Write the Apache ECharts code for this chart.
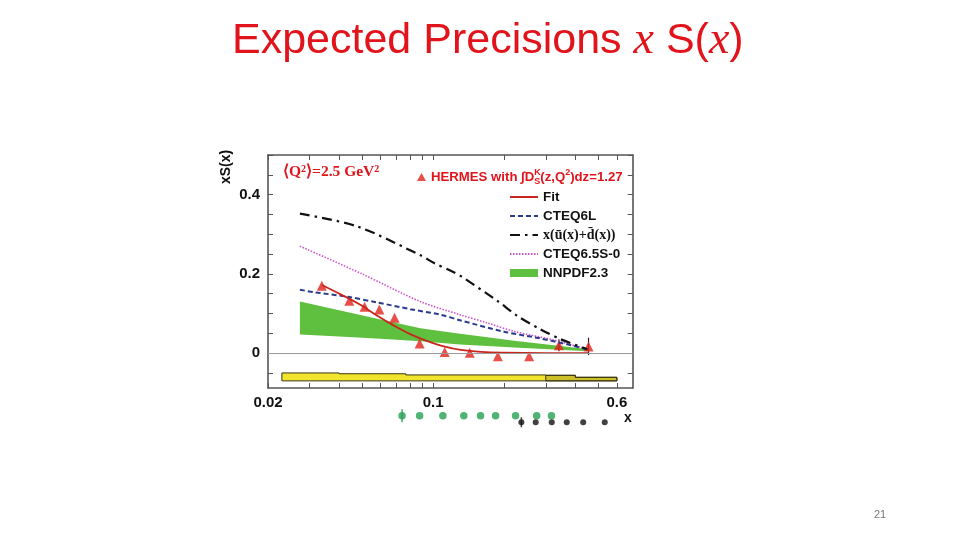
<!DOCTYPE html>
<html><head><meta charset="utf-8">
<script src="https://cdn.jsdelivr.net/npm/echarts@6/dist/echarts.min.js"></script>
<style>html,body{margin:0;padding:0;background:#fff}#c{width:960px;height:540px}</style>
</head><body><div id="c"></div>
<script>
// ---- data (x values are Bjorken x, y values xS(x)) ----
const xTickVals = [0.02,0.03,0.04,0.05,0.06,0.07,0.08,0.09,0.1,0.2,0.3,0.4,0.5,0.6];
const xLabelVals = [0.02,0.1,0.6];
const yTickVals = [-0.05,0,0.05,0.1,0.15,0.2,0.25,0.3,0.35,0.4,0.45,0.5];
const yLabelVals = [0,0.2,0.4];

const hermesX = [0.0338,0.0442,0.0513,0.0592,0.0687,0.0877,0.112,0.143,0.188,0.255,0.341,0.455];
const hermesY = [0.170,0.132,0.117,0.110,0.089,0.024,0.003,0.001,-0.008,-0.008,0.020,0.017];
const hermesErr = [0,0,0,0,0,0,0,0,0,0,0.015,0.022];

const fitX = [0.0338,0.0404,0.0492,0.0578,0.068,0.080,0.094,0.111,0.131,0.16,0.2,0.3,0.455];
const fitY = [0.172,0.149,0.122,0.095,0.070,0.048,0.031,0.017,0.008,0.003,0.001,0.0,0.0];

const cteq6lX = [0.0273,0.0311,0.0432,0.0578,0.080,0.1075,0.13,0.2,0.285,0.395,0.455];
const cteq6lY = [0.160,0.154,0.1425,0.128,0.111,0.097,0.083,0.054,0.037,0.018,0.008];

const seaX = [0.0273,0.0476,0.0884,0.1006,0.1224,0.1306,0.187,0.2273,0.281,0.347,0.45];
const seaY = [0.352,0.320,0.247,0.228,0.204,0.195,0.132,0.094,0.062,0.035,0.010];

const cteq65X = [0.0273,0.05,0.0884,0.13,0.17,0.22,0.325,0.436];
const cteq65Y = [0.270,0.200,0.130,0.097,0.076,0.055,0.033,0.012];

const nnX = [0.0273,0.04,0.06,0.0884,0.13,0.17,0.22,0.325,0.455];
const nnUpper = [0.130,0.108,0.085,0.063,0.049,0.040,0.031,0.020,0.010];
const nnLower = [0.047,0.042,0.036,0.030,0.022,0.018,0.014,0.009,0.005];

const yellowEdges = [0.0229,0.04,0.0766,0.3,0.4,0.6];
const yellowTop = [-0.050,-0.052,-0.055,-0.056,-0.061];
const yellowBottom = -0.070;
const yellowShadeFrom = 3;

const greenBinsX = [0.0739,0.0877,0.110,0.1349,0.1588,0.1839,0.2234,0.2745,0.317];
const blackBinsX = [0.2364,0.2719,0.318,0.368,0.432,0.533];

// ---- build ----
const L = v => Math.log10(v);
const xy = (xs, ys) => xs.map((x, i) => [L(x), ys[i]]);
const RED = '#e2141b';
const AX = '#555';
const GREEN = '#5fbf3f';

function xAxisDef(pos, showLabel) {
  return {
    type: 'value', gridIndex: 0, position: pos, min: L(0.02), max: L(0.7),
    axisLine: {show: true, onZero: false, lineStyle: {color: AX, width: 1.6}},
    axisTick: {show: true, inside: true, length: 5, customValues: xTickVals.map(L), lineStyle: {color: AX, width: 1}},
    axisLabel: {show: showLabel, customValues: xLabelVals.map(L), margin: 7,
      formatter: v => String(Math.round(Math.pow(10, v) * 100) / 100),
      fontFamily: 'Liberation Sans', fontWeight: 'bold', fontSize: 15, color: '#111'},
    splitLine: {show: false}
  };
}
function yAxisDef(pos, showLabel) {
  return {
    type: 'value', gridIndex: 0, position: pos, min: -0.088, max: 0.5,
    axisLine: {show: true, onZero: false, lineStyle: {color: AX, width: 1.6}},
    axisTick: {show: true, inside: true, length: 5, customValues: yTickVals, lineStyle: {color: AX, width: 1}},
    axisLabel: {show: showLabel, customValues: yLabelVals, margin: 8,
      fontFamily: 'Liberation Sans', fontWeight: 'bold', fontSize: 15, color: '#111'},
    splitLine: {show: false}
  };
}
const noSym = {opacity: 0};

const chart = echarts.init(document.getElementById('c'));
chart.setOption({
  animation: false,
  backgroundColor: '#fff',
  title: {
    text: '{a|Expected Precisions }{b|x}{a| S(}{b|x}{a|)}',
    left: 227, top: 10,
    textStyle: {fontWeight: 'normal', rich: {
      a: {fontFamily: 'Liberation Sans', fontWeight: 'normal', fontSize: 43, color: RED, lineHeight: 52},
      b: {fontFamily: 'Liberation Serif', fontStyle: 'italic', fontWeight: 'normal', fontSize: 46, color: RED, lineHeight: 52}
    }}
  },
  grid: [
    {left: 268, right: 327.3, top: 155, bottom: 152},
    {left: 268, right: 327.3, top: 415.7, height: 6.6}
  ],
  xAxis: [
    xAxisDef('bottom', true), xAxisDef('top', false),
    {type: 'value', gridIndex: 1, min: L(0.02), max: L(0.7), show: false}
  ],
  yAxis: [
    yAxisDef('left', true), yAxisDef('right', false),
    {type: 'value', gridIndex: 1, min: 0, max: 1, show: false}
  ],
  legend: [
    {
      selectedMode: false, left: 412, top: 163, itemWidth: 9, itemHeight: 8,
      data: [{name: 'HERMES', icon: 'triangle'}],
      formatter: () => 'HERMES with ∫D{k|K}{s|S}(z,Q{p|2})dz=1.27',
      textStyle: {color: RED, fontFamily: 'Liberation Sans', fontWeight: 'bold', fontSize: 13.2, lineHeight: 18,
        rich: {
          k: {color: RED, fontFamily: 'Liberation Sans', fontWeight: 'bold', fontSize: 9, width: 0, verticalAlign: 'top', lineHeight: 18},
          s: {color: RED, fontFamily: 'Liberation Sans', fontWeight: 'bold', fontSize: 9, verticalAlign: 'bottom', lineHeight: 18},
          p: {color: RED, fontFamily: 'Liberation Sans', fontWeight: 'bold', fontSize: 9, verticalAlign: 'top', lineHeight: 18}
        }}
    },
    {
      selectedMode: false, orient: 'vertical', left: 504, top: 184, itemWidth: 28, itemHeight: 8, itemGap: 3,
      data: [
        {name: 'Fit', itemStyle: noSym}, {name: 'CTEQ6L', itemStyle: noSym},
        {name: 'x(ū(x)+d̄(x))', itemStyle: noSym}, {name: 'CTEQ6.5S-0', itemStyle: noSym},
        {name: 'NNPDF2.3', icon: 'rect', itemStyle: {color: GREEN, opacity: 1}}
      ],
      formatter: n => n === 'x(ū(x)+d̄(x))' ? '{m|' + n + '}' : n,
      textStyle: {color: '#111', fontFamily: 'Liberation Sans', fontWeight: 'bold', fontSize: 13.5, lineHeight: 16,
        rich: {m: {fontFamily: 'Liberation Serif', fontWeight: 'bold', fontSize: 14, color: '#111', lineHeight: 16}}}
    }
  ],
  graphic: [
    {type: 'text', left: 283, top: 164, style: {
      text: '⟨Q{s|2}⟩=2.5 GeV{s|2}', fill: RED, font: 'bold 15.5px "Liberation Serif"',
      rich: {s: {fontSize: 10, fontWeight: 'bold', fontFamily: 'Liberation Serif', fill: RED, verticalAlign: 'top'}}}},
    {type: 'text', x: 226, y: 167, rotation: Math.PI / 2, style: {
      text: 'xS(x)', fill: '#111', font: 'bold 14px "Liberation Sans"', align: 'center', verticalAlign: 'middle'}},
    {type: 'text', x: 628, y: 418, style: {
      text: 'x', fill: '#111', font: 'bold 14px "Liberation Sans"', align: 'center', verticalAlign: 'middle'}},
    {type: 'text', x: 880, y: 515, style: {
      text: '21', fill: '#777', font: '11px "Liberation Sans"', align: 'center', verticalAlign: 'middle'}}
  ],
  series: [
    { // zero line
      type: 'line', name: 'zero', data: [], symbol: 'none', silent: true,
      markLine: {silent: true, symbol: ['none', 'none'], label: {show: false},
        lineStyle: {color: '#9a9a9a', width: 1, type: 'solid'}, data: [{yAxis: 0}]}
    },
    { // yellow band
      type: 'custom', name: 'yellow', xAxisIndex: 0, yAxisIndex: 0, silent: true,
      data: [[0]],
      renderItem: (params, api) => {
        const poly = (from, to) => {
          const pts = [];
          for (let i = from; i < to; i++) {
            pts.push(api.coord([L(yellowEdges[i]), yellowTop[i]]));
            pts.push(api.coord([L(yellowEdges[i + 1]), yellowTop[i]]));
          }
          pts.push(api.coord([L(yellowEdges[to]), yellowBottom]));
          pts.push(api.coord([L(yellowEdges[from]), yellowBottom]));
          return pts;
        };
        return {type: 'group', children: [
          {type: 'polygon', shape: {points: poly(0, yellowTop.length)},
            style: {fill: '#f2e32c', stroke: '#3a3410', lineWidth: 1}},
          {type: 'polygon', shape: {points: poly(yellowShadeFrom, yellowTop.length)},
            style: {fill: 'rgba(110,100,30,0.28)', stroke: '#3a3410', lineWidth: 1}}
        ]};
      }
    },
    { // NNPDF band
      type: 'custom', name: 'NNPDF2.3', silent: true, itemStyle: {color: GREEN},
      data: [[0]],
      renderItem: (params, api) => {
        const pts = [];
        nnX.forEach((x, i) => pts.push(api.coord([L(x), nnUpper[i]])));
        for (let i = nnX.length - 1; i >= 0; i--) pts.push(api.coord([L(nnX[i]), nnLower[i]]));
        return {type: 'polygon', shape: {points: pts}, style: {fill: GREEN}};
      }
    },
    {
      type: 'line', name: 'CTEQ6.5S-0', data: xy(cteq65X, cteq65Y), smooth: 0.3, symbol: 'none',
      lineStyle: {color: '#cc55c8', width: 1.6, type: [1.5, 1.5]}, itemStyle: {color: '#cc55c8'}
    },
    {
      type: 'line', name: 'CTEQ6L', data: xy(cteq6lX, cteq6lY), smooth: 0.3, symbol: 'none',
      lineStyle: {color: '#2b3b8c', width: 2, type: [5, 3]}, itemStyle: {color: '#2b3b8c'}
    },
    {
      type: 'line', name: 'x(ū(x)+d̄(x))', data: xy(seaX, seaY), smooth: 0.3, symbol: 'none',
      lineStyle: {color: '#111', width: 2.2, type: [10, 5, 2.5, 5]}, itemStyle: {color: '#111'}
    },
    {
      type: 'line', name: 'Fit', data: xy(fitX, fitY), smooth: 0.4, symbol: 'none',
      lineStyle: {color: '#c8261c', width: 1.8}, itemStyle: {color: '#c8261c'}
    },
    {
      type: 'custom', name: 'hermesErr', silent: true,
      data: hermesX.map((x, i) => [L(x), hermesY[i], hermesErr[i]]).filter(d => d[2] > 0),
      renderItem: (params, api) => {
        const a = api.coord([api.value(0), api.value(1) - api.value(2)]);
        const b = api.coord([api.value(0), api.value(1) + api.value(2)]);
        return {type: 'line', shape: {x1: a[0], y1: a[1], x2: b[0], y2: b[1]},
          style: {stroke: '#3a1a14', lineWidth: 1.2}};
      }
    },
    {
      type: 'scatter', name: 'HERMES', data: xy(hermesX, hermesY), symbol: 'triangle', symbolSize: 10,
      itemStyle: {color: '#e3231c'}
    },
    // expected bins strip
    {
      type: 'scatter', name: 'greenBins', xAxisIndex: 2, yAxisIndex: 2, silent: true,
      data: greenBinsX.map(x => [L(x), 1]), symbol: 'circle', symbolSize: 7.5, itemStyle: {color: '#22a050'}
    },
    {
      type: 'scatter', name: 'greenBar', xAxisIndex: 2, yAxisIndex: 2, silent: true,
      data: [[L(greenBinsX[0]), 1]], symbol: 'rect', symbolSize: [1.6, 13], itemStyle: {color: '#22a050'}
    },
    {
      type: 'scatter', name: 'blackBins', xAxisIndex: 2, yAxisIndex: 2, silent: true,
      data: blackBinsX.map(x => [L(x), 0]), symbol: 'circle', symbolSize: 6, itemStyle: {color: '#111'}
    },
    {
      type: 'scatter', name: 'blackBar', xAxisIndex: 2, yAxisIndex: 2, silent: true,
      data: [[L(blackBinsX[0]), 0]], symbol: 'rect', symbolSize: [1.5, 10], itemStyle: {color: '#111'}
    }
  ]
});
</script>
</body></html>
